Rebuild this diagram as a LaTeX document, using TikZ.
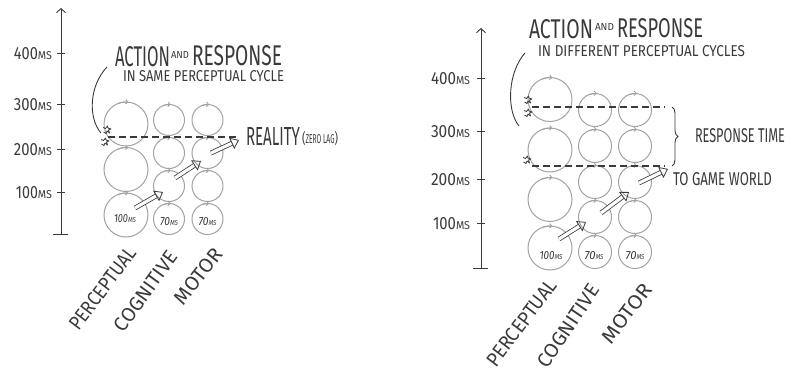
\documentclass[tikz,border=0pt]{standalone}
\usepackage{fontspec}
\usepackage{graphicx}
\usetikzlibrary{arrows.meta,decorations.pathreplacing}
\newfontfamily\handfont{Fira Sans}
% hand lettering: text squeezed to a given width and cap height
\newcommand\hw[3]{\resizebox{#1pt}{#2pt}{\handfont #3}}
\definecolor{ink}{HTML}{3A3A3A}
\definecolor{ringc}{HTML}{A2A2A2}

\begin{document}
\begin{tikzpicture}[x=1pt,y=1pt,
  txt/.style={inner sep=0pt, outer sep=0pt, anchor=base west, text=ink},
  lbl/.style={txt, anchor=base east},
  sidelbl/.style={txt, anchor=base east, rotate=#1},
  cyc/.style={circle, draw=ringc, line width=1pt, inner sep=0pt, outer sep=0pt, minimum size=#1},
  cyctip/.style={draw=ringc, line width=1pt, -{Straight Barb[length=2pt,width=4.5pt]}},
  axis/.style={draw=ink, line width=0.9pt, -{Straight Barb[length=4pt,width=9pt]}},
  tick/.style={draw=ink, line width=0.9pt},
  lagline/.style={draw=ink, line width=1.2pt, dash pattern=on 7pt off 4pt},
  hollow/.style={draw=ink, line width=0.8pt, double=white, double distance=3.2pt,
    -{Triangle[open, length=8pt, width=12pt]}},
  spark/.style={draw=ink, line width=0.8pt, line join=round},
  pointer/.style={draw=ink, line width=0.9pt},
]
\useasboundingbox (0,0) rectangle (790,-372);

% ---------------- left panel: same perceptual cycle ----------------
\coordinate (axAbot) at (61,-234);
\coordinate (axAtop) at (61,-8);
\draw[axis] (axAbot) -- (axAtop);
\draw[tick] (53,-234) -- (68,-234);
\foreach \ty in {53,104,149,192} \draw[tick] (57,-\ty) -- (65,-\ty);
\node[lbl] (lA4) at (52,-59)  {\hw{24}{12}{400}\hw{14}{8}{MS}};
\node[lbl] (lA3) at (52,-110) {\hw{24}{12}{300}\hw{14}{8}{MS}};
\node[lbl] (lA2) at (52,-155) {\hw{24}{12}{200}\hw{14}{8}{MS}};
\node[lbl] (lA1) at (52,-198) {\hw{22}{12}{100}\hw{14}{8}{MS}};

\foreach \n/\x/\y/\d in {pA1/126/-215/44, pA2/126/-169.5/44, pA3/126/-124/44,
    cA1/169/-219/31, cA2/169/-186/31, cA3/169/-153/31, cA4/169/-120/31,
    mA1/207.5/-219/31, mA2/207.5/-186/31, mA3/207.5/-153/31, mA4/207.5/-120/31} {
  \node[cyc=\d pt] (\n) at (\x,\y) {};
  \draw[cyctip] (\n.112) arc[start angle=112, end angle=84, radius=\d/2];
}
\node[txt, anchor=base] (dA1) at (125,-222) {\hw{14}{8}{\itshape 100}\hw{8}{5}{\itshape MS}};
\node[txt, anchor=base] (dA2) at (169,-225) {\hw{10}{8}{\itshape 70}\hw{8}{5}{\itshape MS}};
\node[txt, anchor=base] (dA3) at (207.5,-225) {\hw{10}{8}{\itshape 70}\hw{8}{5}{\itshape MS}};

\coordinate (lagAs) at (108,-137);
\coordinate (lagAe) at (237,-137);
\draw[lagline] (lagAs) -- (lagAe);

\coordinate (hA1s) at (135,-208); \coordinate (hA1e) at (163,-192);
\coordinate (hA2s) at (175,-178); \coordinate (hA2e) at (201,-161);
\coordinate (hA3s) at (211,-153); \coordinate (hA3e) at (239,-140);
\draw[hollow] (hA1s) -- (hA1e);
\draw[hollow] (hA2s) -- (hA2e);
\draw[hollow] (hA3s) -- (hA3e);

\foreach \sx/\sy in {107/-130, 105/-142}
  \draw[spark] (\sx,\sy) +(-3.5,-2) -- +(-1,-3.5) -- +(0,-1) -- +(2.5,-3) -- +(1.5,0) -- +(4,1)
    -- +(1,2) -- +(0.5,4) -- +(-1.5,1.5) -- +(-4,2.5);

\coordinate (ptA1) at (107,-67);
\coordinate (ptA2) at (101,-133);
\draw[pointer] (ptA1) .. controls (89,-86) and (88,-118) .. (ptA2);

\node[txt] (tA1) at (115,-66)   {\hw{55}{20}{ACTION}};
\node[txt] (tA2) at (171,-58)   {\hw{18}{7}{AND}};
\node[txt] (tA3) at (192,-65.5) {\hw{90}{20}{RESPONSE}};
\node[txt] (tA4) at (123,-81.5) {\hw{161}{11}{IN SAME PERCEPTUAL CYCLE}};
\node[txt] (tA5) at (246,-145)  {\hw{54}{18}{REALITY}};
\node[txt] (tA6) at (302,-143)  {\hw{3.5}{12}{(}\hw{29}{9}{ZERO LAG}\hw{3.5}{12}{)}};

\node[sidelbl=53] (sA1) at (137,-254) {\hw{97}{14}{PERCEPTUAL}};
\node[sidelbl=54] (sA2) at (179,-257) {\hw{94}{14}{COGNITIVE}};
\node[sidelbl=52] (sA3) at (224,-255) {\hw{65}{14}{MOTOR}};

% ---------------- right panel: different perceptual cycles ----------------
\coordinate (axBbot) at (481,-268);
\coordinate (axBtop) at (481,-28);
\draw[axis] (axBbot) -- (axBtop);
\draw[tick] (473,-268) -- (488,-268);
\foreach \ty in {78,131,179,223} \draw[tick] (477,-\ty) -- (485,-\ty);
\node[lbl] (lB4) at (470,-84)  {\hw{25}{12}{400}\hw{14}{8}{MS}};
\node[lbl] (lB3) at (470,-137) {\hw{25}{12}{300}\hw{14}{8}{MS}};
\node[lbl] (lB2) at (470,-185) {\hw{25}{12}{200}\hw{14}{8}{MS}};
\node[lbl] (lB1) at (470,-229) {\hw{23}{12}{100}\hw{14}{8}{MS}};

\foreach \n/\x/\y/\d in {pB1/550/-248/44, pB2/550/-199.5/44, pB3/550/-150/44, pB4/550/-99.5/44,
    cB1/595/-252/33, cB2/595/-217/33, cB3/595/-182/33, cB4/595/-146/33, cB5/595/-110/33,
    mB1/635/-252/33, mB2/635/-217/33, mB3/635/-182/33, mB4/635/-146/33, mB5/635/-110/33} {
  \node[cyc=\d pt] (\n) at (\x,\y) {};
  \draw[cyctip] (\n.112) arc[start angle=112, end angle=84, radius=\d/2];
}
\node[txt, anchor=base] (dB1) at (551,-259) {\hw{15}{8}{\itshape 100}\hw{8}{5}{\itshape MS}};
\node[txt, anchor=base] (dB2) at (594,-259) {\hw{11}{8}{\itshape 70}\hw{8}{5}{\itshape MS}};
\node[txt, anchor=base] (dB3) at (635,-259) {\hw{11}{8}{\itshape 70}\hw{8}{5}{\itshape MS}};

\coordinate (lagBs) at (532,-107);
\coordinate (lagBe) at (665,-107);
\coordinate (lagCs) at (532,-166);
\coordinate (lagCe) at (665,-166);
\draw[lagline] (lagBs) -- (lagBe);
\draw[lagline] (lagCs) -- (lagCe);

\coordinate (brTop) at (672,-107);
\coordinate (brBot) at (672,-166);
\draw[draw=ink, line width=0.9pt, decorate, decoration={brace, amplitude=6pt}] (brTop) -- (brBot);

\coordinate (hB1s) at (559,-239); \coordinate (hB1e) at (586,-222);
\coordinate (hB2s) at (601,-213); \coordinate (hB2e) at (629,-192);
\coordinate (hB3s) at (639,-183); \coordinate (hB3e) at (668,-169);
\draw[hollow] (hB1s) -- (hB1e);
\draw[hollow] (hB2s) -- (hB2e);
\draw[hollow] (hB3s) -- (hB3e);

\foreach \sx/\sy in {528/-100, 528/-113, 527/-160}
  \draw[spark] (\sx,\sy) +(-3.5,-2) -- +(-1,-3.5) -- +(0,-1) -- +(2.5,-3) -- +(1.5,0) -- +(4,1)
    -- +(1,2) -- +(0.5,4) -- +(-1.5,1.5) -- +(-4,2.5);

\coordinate (ptB1) at (525,-53);
\coordinate (ptB2) at (519,-126);
\draw[pointer] (ptB1) .. controls (508,-72) and (506,-110) .. (ptB2);

\node[txt] (tB1) at (529,-38)   {\hw{64}{19}{ACTION}};
\node[txt] (tB2) at (595,-30)   {\hw{19}{7}{AND}};
\node[txt] (tB3) at (617,-37.5) {\hw{86}{19}{RESPONSE}};
\node[txt] (tB4) at (538,-56)   {\hw{207}{11}{IN DIFFERENT PERCEPTUAL CYCLES}};
\node[txt] (tB5) at (695,-142)  {\hw{90}{14}{RESPONSE TIME}};
\node[txt] (tB6) at (673,-185)  {\hw{99}{13}{TO GAME WORLD}};

\node[sidelbl=53] (sB1) at (558,-286) {\hw{103}{14}{PERCEPTUAL}};
\node[sidelbl=56] (sB2) at (601,-290) {\hw{96}{14}{COGNITIVE}};
\node[sidelbl=53] (sB3) at (653,-290) {\hw{69}{14}{MOTOR}};
\end{tikzpicture}
\end{document}
